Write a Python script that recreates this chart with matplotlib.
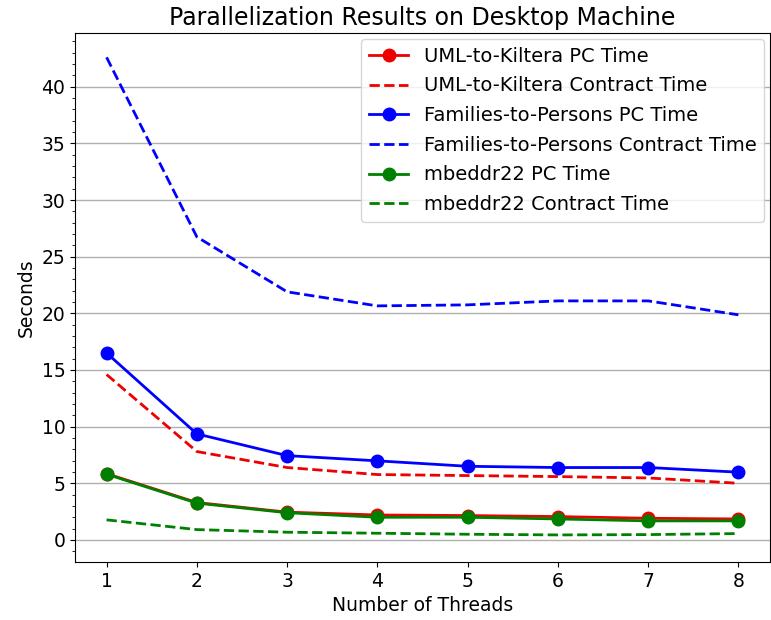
import matplotlib
matplotlib.use("Agg")
import matplotlib.pyplot as plt
from matplotlib.ticker import MultipleLocator

threads = [1, 2, 3, 4, 5, 6, 7, 8]
uml_pc = [5.85, 3.3, 2.45, 2.2, 2.15, 2.06, 1.91, 1.85]
uml_contract = [14.6, 7.8, 6.39, 5.77, 5.68, 5.59, 5.47, 5.0]
fam_pc = [16.5, 9.36, 7.44, 6.98, 6.5, 6.39, 6.39, 5.98]
fam_contract = [42.6, 26.75, 21.9, 20.66, 20.75, 21.1, 21.1, 19.87]
mb_pc = [5.8, 3.25, 2.4, 2.0, 2.0, 1.85, 1.68, 1.68]
mb_contract = [1.77, 0.91, 0.68, 0.59, 0.5, 0.44, 0.47, 0.56]

fig = plt.figure(figsize=(7.71, 6.2), dpi=100)
ax = fig.add_axes([75/771, 58/620, 695/771, 529/620])

ax.plot(threads, uml_pc, '-o', color='#ee0000', lw=2, ms=9, label='UML-to-Kiltera PC Time')
ax.plot(threads, uml_contract, '--', color='#ee0000', lw=2, label='UML-to-Kiltera Contract Time')
ax.plot(threads, fam_pc, '-o', color='#0000ff', lw=2, ms=9, label='Families-to-Persons PC Time')
ax.plot(threads, fam_contract, '--', color='#0000ff', lw=2, label='Families-to-Persons Contract Time')
ax.plot(threads, mb_pc, '-o', color='#008000', lw=2, ms=9, label='mbeddr22 PC Time')
ax.plot(threads, mb_contract, '--', color='#008000', lw=2, label='mbeddr22 Contract Time')

ax.set_ylim(-1.95, 44.75)
ax.yaxis.set_major_locator(MultipleLocator(5))
ax.yaxis.set_minor_locator(MultipleLocator(1))
ax.grid(axis='y', color='#b0b0b0', lw=1)
ax.set_axisbelow(True)
ax.tick_params(labelsize=13.5)
ax.set_xlabel('Number of Threads', fontsize=13.5)
ax.set_ylabel('Seconds', fontsize=13.5)
ax.set_title('Parallelization Results on Desktop Machine', fontsize=17)
ax.legend(loc='upper right', fontsize=14, borderaxespad=0.3, labelspacing=0.55)

fig.savefig('out.png', dpi=100)
